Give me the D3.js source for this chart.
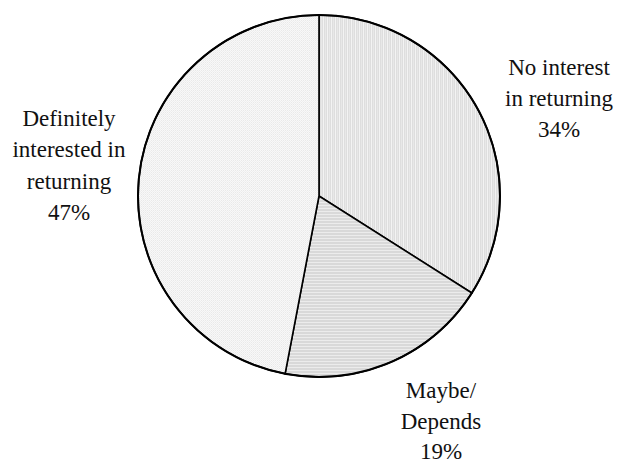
<!DOCTYPE html>
<html>
<head>
<meta charset="utf-8">
<script src="https://cdn.jsdelivr.net/npm/d3@7"></script>
<style>
  body { margin: 0; background: #fff; }
  svg { display: block; }
</style>
</head>
<body>
<svg width="618" height="463"></svg>
<script>
// slice data, clockwise from 12 o'clock
var categories = ["No interest in returning", "Maybe/ Depends", "Definitely interested in returning"];
var values = [34, 19, 47];
var labelLines = [
  ["No interest", "in returning", "34%"],
  ["Maybe/", "Depends", "19%"],
  ["Definitely", "interested in", "returning", "47%"]
];

var svg = d3.select("svg");
var cx = 319, cy = 196, r = 181;

var defs = svg.append("defs");

// vertical stripes
var p1 = defs.append("pattern").attr("id", "vstripe")
  .attr("patternUnits", "userSpaceOnUse").attr("width", 4).attr("height", 4);
p1.append("rect").attr("width", 4).attr("height", 4).attr("fill", "#dedede");
p1.append("rect").attr("x", 0).attr("width", 1).attr("height", 4).attr("fill", "#f3f3f3");
p1.append("rect").attr("x", 2).attr("width", 1).attr("height", 4).attr("fill", "#e8e8e8");

// horizontal stripes
var p2 = defs.append("pattern").attr("id", "hstripe")
  .attr("patternUnits", "userSpaceOnUse").attr("width", 3).attr("height", 3);
p2.append("rect").attr("width", 3).attr("height", 3).attr("fill", "#d9d9d9");
p2.append("rect").attr("y", 0).attr("width", 3).attr("height", 1).attr("fill", "#ececec");

// fine dots
var p3 = defs.append("pattern").attr("id", "dots")
  .attr("patternUnits", "userSpaceOnUse").attr("width", 2).attr("height", 2);
p3.append("rect").attr("width", 2).attr("height", 2).attr("fill", "#f8f8f8");
p3.append("rect").attr("width", 1).attr("height", 1).attr("fill", "#e9e9e9");
p3.append("rect").attr("x", 1).attr("y", 1).attr("width", 1).attr("height", 1).attr("fill", "#efefef");

var fills = ["url(#vstripe)", "url(#hstripe)", "url(#dots)"];

var pie = d3.pie().sort(null).value(function(d){ return d; });
var arc = d3.arc().innerRadius(0).outerRadius(r);

var g = svg.append("g").attr("transform", "translate(" + [cx, cy] + ")");

g.selectAll("path.slice").data(pie(values))
  .enter().append("path")
  .attr("class", "slice")
  .attr("d", arc)
  .attr("fill", function(d, i){ return fills[i]; })
  .attr("stroke", "#000")
  .attr("stroke-width", 1.6)
  .attr("stroke-linejoin", "miter");

// outer rim a bit heavier
g.append("circle").attr("r", r)
  .attr("fill", "none").attr("stroke", "#000").attr("stroke-width", 2);

// label placement (x centre, first baseline, line step)
var labelPos = [[559, 75, 31], [441, 398, 30.5], [69, 126, 31.3]];

labelLines.forEach(function(lines, i){
  var t = svg.append("text")
    .attr("font-family", "Liberation Serif")
    .attr("font-size", 23)
    .attr("fill", "#111")
    .attr("text-anchor", "middle");
  lines.forEach(function(s, j){
    t.append("tspan")
      .attr("x", labelPos[i][0])
      .attr("y", labelPos[i][1] + j * labelPos[i][2])
      .text(s);
  });
});
</script>
</body>
</html>
